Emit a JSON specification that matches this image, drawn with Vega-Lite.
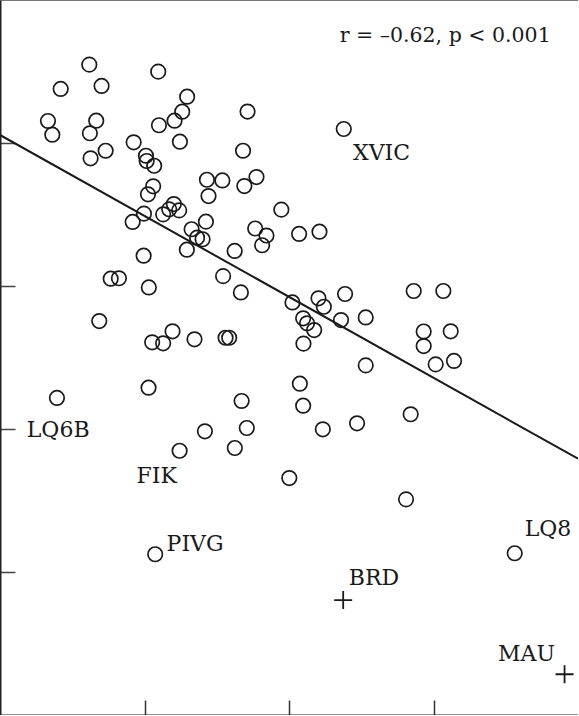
{
  "$schema": "https://vega.github.io/schema/vega-lite/v6.json",
  "width": 578,
  "height": 715,
  "autosize": "none",
  "padding": 0,
  "background": "white",
  "datasets": {
    "points": [
      {"x": 0.618, "y": 4.548}, {"x": 1.095, "y": 4.499}, {"x": 0.420, "y": 4.378},
      {"x": 0.703, "y": 4.399}, {"x": 1.295, "y": 4.324}, {"x": 1.261, "y": 4.219},
      {"x": 1.713, "y": 4.220}, {"x": 0.332, "y": 4.154}, {"x": 0.666, "y": 4.156},
      {"x": 1.208, "y": 4.156}, {"x": 0.362, "y": 4.058}, {"x": 0.622, "y": 4.068},
      {"x": 1.100, "y": 4.124}, {"x": 1.245, "y": 4.009}, {"x": 0.925, "y": 4.005},
      {"x": 1.682, "y": 3.946}, {"x": 0.731, "y": 3.946}, {"x": 0.627, "y": 3.893},
      {"x": 1.010, "y": 3.911}, {"x": 1.015, "y": 3.874}, {"x": 1.067, "y": 3.841},
      {"x": 1.432, "y": 3.743}, {"x": 1.539, "y": 3.738}, {"x": 1.775, "y": 3.762},
      {"x": 1.691, "y": 3.699}, {"x": 1.060, "y": 3.697}, {"x": 1.024, "y": 3.641},
      {"x": 1.443, "y": 3.629}, {"x": 1.947, "y": 3.534}, {"x": 1.203, "y": 3.573},
      {"x": 1.171, "y": 3.536}, {"x": 1.240, "y": 3.529}, {"x": 1.129, "y": 3.501},
      {"x": 0.996, "y": 3.506}, {"x": 0.918, "y": 3.448}, {"x": 1.425, "y": 3.450},
      {"x": 1.326, "y": 3.397}, {"x": 1.364, "y": 3.338}, {"x": 1.402, "y": 3.327},
      {"x": 1.766, "y": 3.402}, {"x": 1.844, "y": 3.353}, {"x": 1.814, "y": 3.285},
      {"x": 1.293, "y": 3.254}, {"x": 1.624, "y": 3.245}, {"x": 0.994, "y": 3.212},
      {"x": 0.766, "y": 3.051}, {"x": 0.823, "y": 3.054}, {"x": 1.030, "y": 2.990},
      {"x": 1.544, "y": 3.069}, {"x": 1.667, "y": 2.955}, {"x": 2.070, "y": 3.364},
      {"x": 2.211, "y": 3.380}, {"x": 2.024, "y": 2.885}, {"x": 2.204, "y": 2.914},
      {"x": 2.241, "y": 2.855}, {"x": 2.388, "y": 2.944}, {"x": 2.863, "y": 2.965},
      {"x": 3.068, "y": 2.965}, {"x": 2.098, "y": 2.774}, {"x": 2.125, "y": 2.739},
      {"x": 2.174, "y": 2.692}, {"x": 2.360, "y": 2.762}, {"x": 2.531, "y": 2.780},
      {"x": 2.100, "y": 2.597}, {"x": 2.932, "y": 2.682}, {"x": 3.119, "y": 2.683},
      {"x": 2.932, "y": 2.580}, {"x": 3.015, "y": 2.452}, {"x": 3.142, "y": 2.476},
      {"x": 2.531, "y": 2.445}, {"x": 2.075, "y": 2.317}, {"x": 2.098, "y": 2.163},
      {"x": 2.842, "y": 2.103}, {"x": 2.234, "y": 1.998}, {"x": 2.471, "y": 2.040},
      {"x": 2.002, "y": 1.657}, {"x": 2.810, "y": 1.508}, {"x": 3.562, "y": 1.131},
      {"x": 0.687, "y": 2.755}, {"x": 1.194, "y": 2.683}, {"x": 1.053, "y": 2.606},
      {"x": 1.129, "y": 2.599}, {"x": 1.346, "y": 2.627}, {"x": 1.561, "y": 2.638},
      {"x": 1.586, "y": 2.638}, {"x": 1.028, "y": 2.289}, {"x": 0.394, "y": 2.217},
      {"x": 1.672, "y": 2.196}, {"x": 1.418, "y": 1.984}, {"x": 1.708, "y": 2.007},
      {"x": 1.243, "y": 1.848}, {"x": 1.625, "y": 1.867}, {"x": 1.074, "y": 1.124},
      {"x": 2.379, "y": 4.098}
    ],
    "crosses": [
      {"x": 2.375, "y": 0.804},
      {"x": 3.907, "y": 0.285}
    ],
    "fit": [
      {"x": 0, "y": 4.056},
      {"x": 4, "y": 1.792}
    ],
    "labels": [
      {"x": 2.443, "y": 3.881, "label": "XVIC"},
      {"x": 0.185, "y": 1.946, "label": "LQ6B"},
      {"x": 0.945, "y": 1.620, "label": "FIK"},
      {"x": 1.153, "y": 1.147, "label": "PIVG"},
      {"x": 3.631, "y": 1.254, "label": "LQ8"},
      {"x": 2.414, "y": 0.909, "label": "BRD"},
      {"x": 3.447, "y": 0.380, "label": "MAU"}
    ],
    "stat": [
      {"x": 2.351, "y": 4.704, "label": "r = –0.62, p < 0.001"}
    ]
  },
  "encoding": {
    "x": {
      "field": "x",
      "type": "quantitative",
      "scale": {"domain": [0, 4], "nice": false, "zero": false},
      "axis": {
        "title": null,
        "labels": false,
        "grid": false,
        "values": [1, 2, 3],
        "tickSize": -15,
        "tickWidth": 1.5,
        "tickColor": "#333333",
        "domainColor": "#222222",
        "domainWidth": 2
      }
    },
    "y": {
      "field": "y",
      "type": "quantitative",
      "scale": {"domain": [0, 5], "nice": false, "zero": false},
      "axis": {
        "title": null,
        "labels": false,
        "grid": false,
        "values": [1, 2, 3, 4],
        "tickSize": -15,
        "tickWidth": 1.5,
        "tickColor": "#444444",
        "domainColor": "#222222",
        "domainWidth": 2
      }
    }
  },
  "layer": [
    {
      "data": {"name": "fit"},
      "mark": {"type": "line", "color": "#1a1a1a", "strokeWidth": 2}
    },
    {
      "data": {"name": "points"},
      "mark": {
        "type": "point",
        "shape": "circle",
        "filled": false,
        "size": 210,
        "stroke": "#1a1a1a",
        "strokeWidth": 1.7,
        "opacity": 1
      }
    },
    {
      "data": {"name": "crosses"},
      "mark": {
        "type": "point",
        "shape": "M-1,0H1M0,-1V1",
        "filled": false,
        "size": 324,
        "stroke": "#1a1a1a",
        "strokeWidth": 1.8,
        "opacity": 1
      }
    },
    {
      "data": {"name": "labels"},
      "mark": {
        "type": "text",
        "align": "left",
        "baseline": "alphabetic",
        "font": "DejaVu Serif",
        "fontSize": 22,
        "color": "#1a1a1a"
      },
      "encoding": {"text": {"field": "label"}}
    },
    {
      "data": {"name": "stat"},
      "mark": {
        "type": "text",
        "align": "left",
        "baseline": "alphabetic",
        "font": "DejaVu Serif",
        "fontSize": 20.5,
        "color": "#1a1a1a"
      },
      "encoding": {"text": {"field": "label"}}
    }
  ],
  "config": {
    "view": {"stroke": "#777777", "strokeWidth": 1}
  }
}
